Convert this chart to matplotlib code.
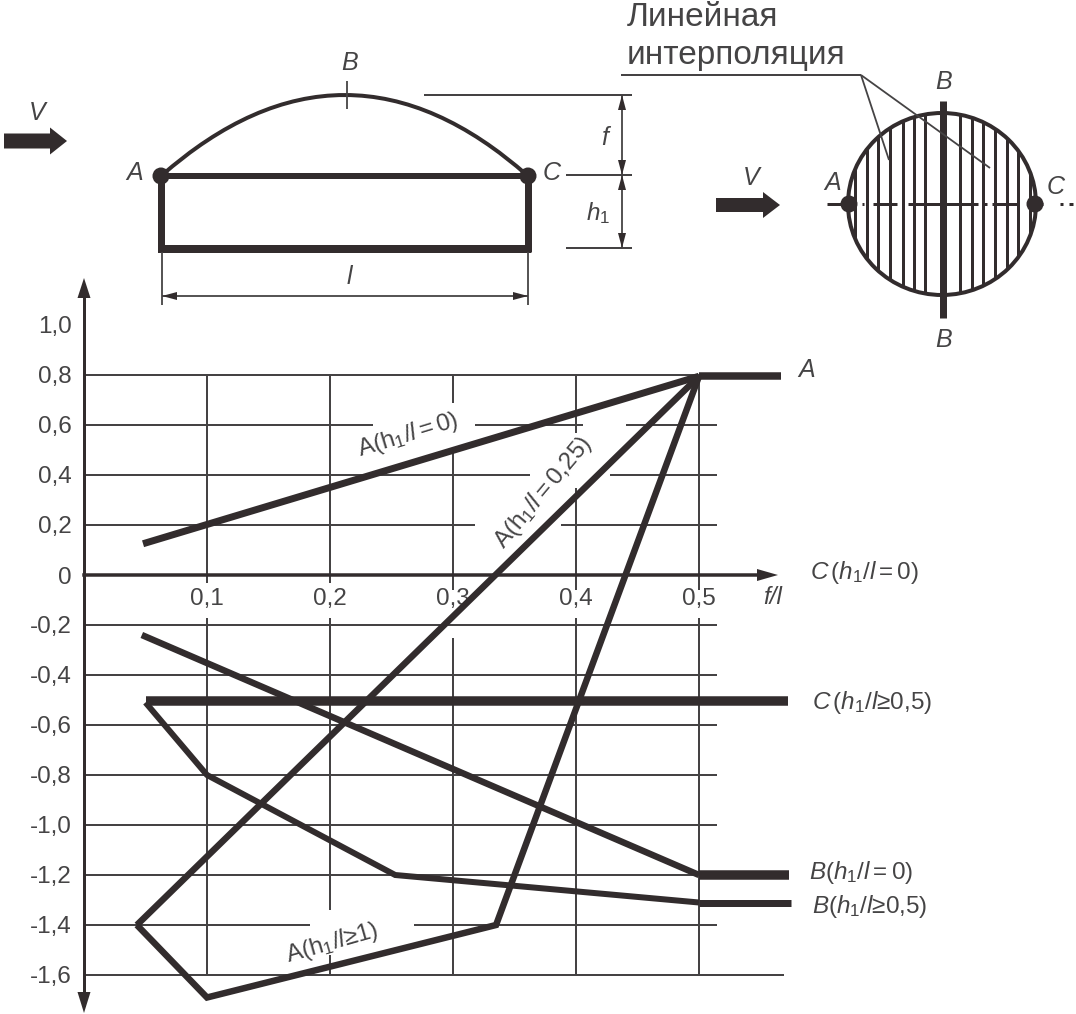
import matplotlib
matplotlib.use('Agg')
import matplotlib.pyplot as plt
from matplotlib.patches import Circle, Ellipse, PathPatch, Polygon
from matplotlib.path import Path

plt.rcParams['font.family'] = ['Liberation Sans', 'DejaVu Sans']
plt.rcParams['mathtext.fontset'] = 'custom'
plt.rcParams['mathtext.rm'] = 'Liberation Sans'
plt.rcParams['mathtext.it'] = 'Liberation Sans:italic'
plt.rcParams['mathtext.bf'] = 'Liberation Sans:bold'

# curves (f/l, coefficient)
a_h0_x = [0.048, 0.5, 0.567]
a_h0_y = [0.125, 0.795, 0.795]
a_h025_x = [0.043, 0.5]
a_h025_y = [-1.40, 0.795]
a_h1_x = [0.043, 0.1, 0.335, 0.5]
a_h1_y = [-1.40, -1.69, -1.40, 0.795]
b_h0_x = [0.047, 0.5, 0.573]
b_h0_y = [-0.24, -1.20, -1.20]
b_h05_x = [0.05, 0.1, 0.253, 0.5, 0.575]
b_h05_y = [-0.51, -0.80, -1.20, -1.31, -1.31]
c_h05_x = [0.05, 0.572]
c_h05_y = [-0.505, -0.505]

x_ticks = [0.1, 0.2, 0.3, 0.4, 0.5]
x_labels = ['0,1', '0,2', '0,3', '0,4', '0,5']
y_ticks = [1.0, 0.8, 0.6, 0.4, 0.2, 0, -0.2, -0.4, -0.6, -0.8, -1.0, -1.2, -1.4, -1.6]
y_labels = ['1,0', '0,8', '0,6', '0,4', '0,2', '0', '-0,2', '-0,4', '-0,6', '-0,8',
            '-1,0', '-1,2', '-1,4', '-1,6']

# the grid is broken around labels, so keep its pieces
h_grid = {
    0.8: [(0, 0.5)],
    0.6: [(0, 0.235), (0.318, 0.406), (0.441, 0.515)],
    0.4: [(0, 0.363), (0.428, 0.515)],
    0.2: [(0, 0.318), (0.388, 0.515)],
    -0.2: [(0, 0.515)],
    -0.4: [(0, 0.515)],
    -0.6: [(0, 0.515)],
    -0.8: [(0, 0.515)],
    -1.0: [(0, 0.515)],
    -1.2: [(0, 0.515)],
    -1.4: [(0, 0.184), (0.268, 0.515)],
    -1.6: [(0, 0.569)],
}
v_grid = {
    0.1: [(0.8, -0.03), (-0.17, -1.6)],
    0.2: [(0.8, -0.03), (-0.17, -1.34), (-1.52, -1.6)],
    0.3: [(0.8, 0.69), (0.49, -0.06), (-0.25, -1.6)],
    0.4: [(0.8, 0.57), (0.35, -0.06), (-0.17, -1.6)],
    0.5: [(0.8, -0.06), (-0.17, -1.6)],
}

DARK = '#322c2d'
GRID = '#454344'
TEXT = '#454445'
W, H = 1076, 1014
PT = 0.72  # one pixel in points at dpi 100
FS = 17.5


def px_head(ax, tip_x, tip_y, dx, dy, length, width, color=DARK):
    # arrow head pointing along (dx, dy), drawn in pixel coords
    bx, by = tip_x - dx * length, tip_y - dy * length
    nx, ny = -dy * width / 2, dx * width / 2
    ax.add_patch(Polygon([(tip_x, tip_y), (bx + nx, by + ny), (bx - nx, by - ny)],
                         closed=True, fc=color, ec='none', zorder=6))


def block_arrow(ax, x0, x1, head_x, y, thick, head_h):
    ax.add_patch(Polygon([(x0, y - thick / 2), (head_x, y - thick / 2), (head_x, y - head_h / 2),
                          (x1, y), (head_x, y + head_h / 2), (head_x, y + thick / 2), (x0, y + thick / 2)],
                         closed=True, fc=DARK, ec='none'))


def seg(ax, xs, ys, w, color=DARK, cap='butt', **kw):
    ax.plot(xs, ys, color=color, lw=w * PT, solid_capstyle=cap, **kw)


fig = plt.figure(figsize=(W / 100, H / 100), dpi=100)

# chart axes: x 0 at px 84, 1230 px per unit; y 0 at px 575, 250 px per unit
ax = fig.add_axes([84 / W, (H - 1012.5) / H, 738 / W, 737.5 / H])
ax.set_xlim(0, 0.6)
ax.set_ylim(-1.75, 1.2)
ax.patch.set_alpha(0)
for side in ['top', 'right']:
    ax.spines[side].set_visible(False)
ax.spines['left'].set_position(('data', 0))
ax.spines['bottom'].set_position(('data', 0))
ax.spines['left'].set_bounds(-1.72, 1.15)
ax.spines['bottom'].set_bounds(0, 0.55)
ax.spines['left'].set_linewidth(3 * PT)
ax.spines['bottom'].set_linewidth(3.5 * PT)
ax.spines['left'].set_color(DARK)
ax.spines['bottom'].set_color(DARK)
ax.set_xticks(x_ticks, x_labels)
ax.set_yticks(y_ticks, y_labels)
ax.tick_params(axis='both', length=0, labelsize=FS, labelcolor=TEXT)
ax.tick_params(axis='x', pad=9)
ax.tick_params(axis='y', pad=9)

for val, pieces in h_grid.items():
    for x0, x1 in pieces:
        ax.hlines(val, x0, x1, color=GRID, lw=2 * PT, zorder=1)
for val, pieces in v_grid.items():
    for y0, y1 in pieces:
        ax.vlines(val, y0, y1, color=GRID, lw=2 * PT, zorder=1)

for xs, ys, w in [(a_h025_x, a_h025_y, 6.5), (a_h1_x, a_h1_y, 6.5), (b_h0_x[:2], b_h0_y[:2], 6.5),
                  (b_h05_x[:4], b_h05_y[:4], 6), (a_h0_x[:2], a_h0_y[:2], 7)]:
    ax.plot(xs, ys, color=DARK, lw=w * PT, solid_joinstyle='miter', solid_capstyle='butt', zorder=3)
ax.plot(c_h05_x, c_h05_y, color=DARK, lw=9.5 * PT, solid_capstyle='butt', zorder=3)
ax.plot(a_h0_x[1:], a_h0_y[1:], color=DARK, lw=7.5 * PT, solid_capstyle='butt', zorder=3)
ax.plot(b_h0_x[1:], b_h0_y[1:], color=DARK, lw=9.5 * PT, solid_capstyle='butt', zorder=3)
ax.plot(b_h05_x[3:], b_h05_y[3:], color=DARK, lw=7 * PT, solid_capstyle='butt', zorder=3)

# everything else is drawn in image pixels
sk = fig.add_axes([0, 0, 1, 1])
sk.set_xlim(0, W)
sk.set_ylim(H, 0)
sk.axis('off')
sk.patch.set_alpha(0)

# axis arrows
px_head(sk, 84, 278, 0, -1, 20, 13)
px_head(sk, 84, 1013, 0, 1, 21, 13)
px_head(sk, 778, 575, 1, 0, 21, 12)

# left sketch
sk.add_patch(PathPatch(Path([(161, 176), (345, 14), (528, 176)], [Path.MOVETO, Path.CURVE3, Path.CURVE3]),
                       fc='none', ec=DARK, lw=4 * PT))
seg(sk, [161, 528], [176, 176], 6)
seg(sk, [161, 161], [176, 252], 7)
seg(sk, [528, 528], [176, 252], 7)
seg(sk, [158, 531], [249, 249], 8)
sk.add_patch(Circle((161, 176), 8.5, fc=DARK, ec='none', zorder=5))
sk.add_patch(Circle((528, 176), 8.5, fc=DARK, ec='none', zorder=5))
seg(sk, [347, 347], [81, 109], 1.8, GRID)
seg(sk, [424, 632], [95, 95], 2, GRID)
seg(sk, [566, 632], [175, 175], 2, GRID)
seg(sk, [566, 632], [248, 248], 2, GRID)
seg(sk, [622, 622], [95, 248], 1.8, GRID)
for tip, d in [(95, -1), (175, 1), (175, -1), (248, 1)]:
    px_head(sk, 622, tip, 0, d, 15, 8)
seg(sk, [162, 162], [252, 305], 1.8, GRID)
seg(sk, [528, 528], [252, 305], 1.8, GRID)
seg(sk, [162, 528], [296, 296], 1.8, GRID)
px_head(sk, 162, 296, -1, 0, 15, 8)
px_head(sk, 528, 296, 1, 0, 15, 8)
block_arrow(sk, 4, 67, 50, 141, 15, 27)

# right sketch
circle = Ellipse((942, 204), 188, 182, fc='none', ec=DARK, lw=4 * PT, zorder=4)
sk.add_patch(circle)
for x in [855, 866.5, 878, 890, 902.5, 914, 925, 960, 971.5, 983, 995, 1007, 1018, 1030]:
    line, = sk.plot([x, x], [105, 305], color=DARK, lw=3 * PT, solid_capstyle='butt', zorder=2)
    line.set_clip_path(circle)
seg(sk, [943, 943], [101, 318], 7, zorder=5)
for x0, x1 in [(827, 841), (862, 864), (873, 897), (908, 978), (984, 987), (992, 1017), (1028, 1043), (1060, 1063), (1069, 1073)]:
    seg(sk, [x0, x1], [204, 204], 3, zorder=3)
sk.add_patch(Circle((849, 204), 8.5, fc=DARK, ec='none', zorder=5))
sk.add_patch(Circle((1035, 204), 8.5, fc=DARK, ec='none', zorder=5))
seg(sk, [621, 861], [75, 75], 2, GRID)
seg(sk, [861, 889], [75, 160], 1.8, GRID, zorder=6)
seg(sk, [861, 990], [75, 168], 1.8, GRID, zorder=6)
block_arrow(sk, 716, 780, 763, 205, 14, 26)


def label(x, y, s, size=FS, italic=False, ha='center', va='center', rot=0):
    sk.text(x, y, s, fontsize=size, color=TEXT, ha=ha, va=va, rotation=rot, rotation_mode='anchor',
            style='italic' if italic else 'normal', zorder=7)


label(627, 26, 'Линейная', size=24, ha='left', va='baseline')
label(627, 64, 'интерполяция', size=24, ha='left', va='baseline')
for x, y, s in [(37, 113, 'V'), (350, 63, 'B'), (135, 173, 'A'), (552, 173, 'C'), (605, 138, 'f'), (349, 277, 'l'),
                (751, 178, 'V'), (833, 183, 'A'), (1056, 187, 'C'), (944, 82, 'B'), (944, 340, 'B'), (807, 370, 'A')]:
    label(x, y, s, italic=True, size=18)
label(598, 213, r'$\mathit{h}_{1}$')
label(773, 597, 'f/l', italic=True)
label(810, 572, r'$\mathit{C}\,\mathrm{(}\mathit{h}_{1}\mathit{/l}{\mathrm{=}}\mathrm{0)}$', ha='left')
label(812, 702, r'$\mathit{C}\,\mathrm{(}\mathit{h}_{1}\mathit{/l}{\mathrm{≥}}\mathrm{0{,}5)}$', ha='left')
label(809, 872, r'$\mathit{B}\mathrm{(}\mathit{h}_{1}\mathit{/l}{\mathrm{=}}\mathrm{0)}$', ha='left')
label(812, 907, r'$\mathit{B}\mathrm{(}\mathit{h}_{1}\mathit{/l}{\mathrm{≥}}\mathrm{0{,}5)}$', ha='left')
label(408, 435, r'$\mathrm{A(h}_{1}\mathrm{/}\mathit{l}{\mathrm{=}}\mathrm{0)}$', rot=17)
label(543, 492, r'$\mathrm{A(h}_{1}\mathrm{/}\mathit{l}{\mathrm{=}}\mathrm{0{,}25)}$', rot=50)
label(332, 943, r'$\mathrm{A(h}_{1}\mathrm{/}\mathit{l}{\mathrm{≥}}\mathrm{1)}$', rot=16)

fig.savefig('out.png', dpi=100, facecolor='white')
